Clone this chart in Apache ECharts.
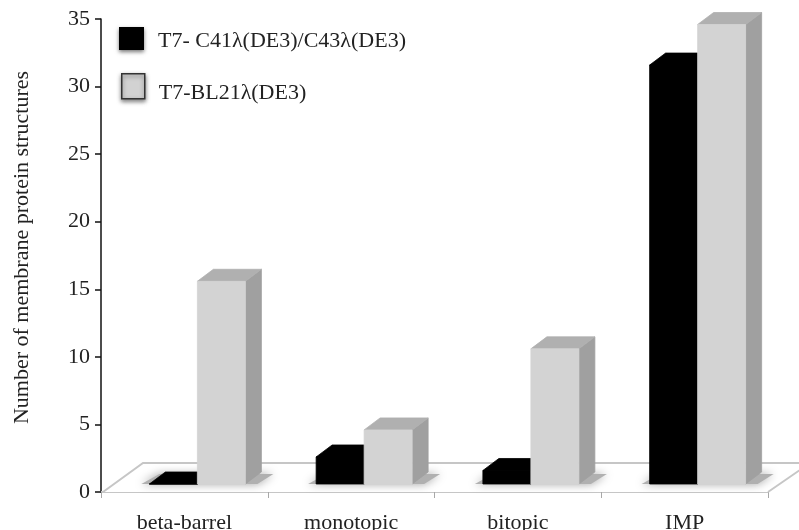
<!DOCTYPE html>
<html>
<head>
<meta charset="utf-8">
<style>html,body{margin:0;padding:0;background:#fff}#c{width:799px;height:530px;filter:blur(0.45px)}</style>
<script src="https://cdn.jsdelivr.net/npm/echarts@6/dist/echarts.min.js"></script>
</head>
<body>
<div id="c"></div>
<script>
const categories = ['beta-barrel', 'monotopic', 'bitopic', 'IMP'];
const c41Values = [0, 2, 1, 31];
const bl21Values = [15, 4, 10, 34];
const seriesNames = ['T7- C41λ(DE3)/C43λ(DE3)', 'T7-BL21λ(DE3)'];
const yAxisTitle = 'Number of membrane protein structures';

const FONT = '"Liberation Serif", serif';
const BAR_W = 48, DX = 16, DY = 12, LIFT = 8, SHIFT = 13;

function barItem(which, colors) {
  return function (params, api) {
    const v = api.value(1);
    const base = api.coord([api.value(0), 0]);
    const top = api.coord([api.value(0), v]);
    const mid = base[0] + SHIFT;
    const x0 = which === 0 ? mid - BAR_W : mid;
    const x1 = x0 + BAR_W;
    const yb = base[1] - LIFT, yt = top[1] - LIFT;
    const poly = (pts, fill) => ({ type: 'polygon', shape: { points: pts }, style: { fill: fill, stroke: fill, lineWidth: 0.8 } });
    return {
      type: 'group',
      children: [
        poly([[x1, yb], [x1 + DX, yb - DY], [x1 + DX, yt - DY], [x1, yt]], colors.side),
        poly([[x0, yt], [x0 + DX, yt - DY], [x1 + DX, yt - DY], [x1, yt]], colors.top),
        poly([[x0, yb], [x1, yb], [x1, yt], [x0, yt]], colors.front)
      ]
    };
  };
}

function floorItem(params, api) {
  const g = params.coordSys;
  const x = g.x, y = g.y + g.height;
  return {
    type: 'polyline',
    shape: { points: [[x + 2, y], [x + 42, y - 29], [x + g.width + 42, y - 29], [x + g.width, y]] },
    style: { fill: '#ffffff', stroke: '#c6c6c6', lineWidth: 2 }
  };
}

function shadowItem(params, api) {
  const base = api.coord([api.value(0), 0]);
  const mid = base[0] + SHIFT;
  const yb = base[1] - LIFT;
  return {
    type: 'polygon',
    shape: { points: [[mid - BAR_W - 8, yb], [mid - BAR_W + DX - 6, yb - DY + 2], [mid + BAR_W + DX + 12, yb - DY + 2], [mid + BAR_W + 12, yb]] },
    style: { fill: '#b0b0b0', shadowBlur: 10, shadowColor: '#a0a0a0' }
  };
}

const chart = echarts.init(document.getElementById('c'), null, { renderer: 'canvas' });
const legendText = (pad) => ({
  fontFamily: FONT, fontSize: 22, color: '#222',
  rich: { t: { fontFamily: FONT, fontSize: 22, color: '#222', padding: [pad, 0, 0, 9] } }
});
chart.setOption({
  animation: false,
  backgroundColor: '#ffffff',
  grid: { left: 101, top: 19, width: 667, height: 473, containLabel: false, outerBoundsMode: 'none' },
  legend: [
    {
      left: 119, top: 27, padding: 0, itemWidth: 25, itemHeight: 23, selectedMode: false,
      formatter: (n) => '{t|' + n + '}',
      textStyle: legendText(6),
      data: [{ name: seriesNames[0], icon: 'rect', itemStyle: { color: '#000', borderWidth: 0, shadowBlur: 4, shadowColor: '#777', shadowOffsetY: 2 } }]
    },
    {
      left: 121, top: 73, padding: 0, itemWidth: 23, itemHeight: 25, selectedMode: false,
      formatter: (n) => '{t|' + n + '}',
      textStyle: legendText(13),
      data: [{ name: seriesNames[1], icon: 'rect', itemStyle: { color: '#d2d2d2', borderColor: '#333', borderWidth: 1.5, shadowBlur: 4, shadowColor: '#777', shadowOffsetY: 2 } }]
    }
  ],
  xAxis: {
    type: 'category',
    data: categories,
    axisLine: { lineStyle: { color: '#c6c6c6', width: 2 } },
    axisTick: { show: true, length: 6, lineStyle: { color: '#a8a8a8', width: 1 } },
    axisLabel: { fontFamily: FONT, fontSize: 22, color: '#222', margin: 20 }
  },
  yAxis: {
    type: 'value',
    min: 0, max: 35, interval: 5,
    name: yAxisTitle,
    nameLocation: 'middle',
    nameGap: 68,
    nameTextStyle: { fontFamily: FONT, fontSize: 22, color: '#222', padding: [0, 0, 0, 16] },
    splitLine: { show: false },
    axisLine: { show: true, lineStyle: { color: '#111', width: 1.5 } },
    axisTick: { show: true, length: 6, lineStyle: { color: '#111', width: 1.5 } },
    axisLabel: { fontFamily: FONT, fontSize: 22, color: '#222', margin: 11 }
  },
  series: [
    { type: 'custom', name: 'floor', silent: true, z: 1, renderItem: floorItem, data: [[0, 0]], encode: { x: 0, y: 1 } },
    { type: 'custom', name: 'shadow', silent: true, z: 2, renderItem: shadowItem, data: categories.map((c, i) => [i, 0]), encode: { x: 0, y: 1 } },
    {
      type: 'custom', name: seriesNames[0], z: 3, itemStyle: { color: '#000' },
      renderItem: barItem(0, { front: '#000000', top: '#000000', side: '#000000' }),
      data: c41Values.map((v, i) => [i, v]), encode: { x: 0, y: 1 }
    },
    {
      type: 'custom', name: seriesNames[1], z: 4, itemStyle: { color: '#d2d2d2' },
      renderItem: barItem(1, { front: '#d3d3d3', top: '#b0b0b0', side: '#a0a0a0' }),
      data: bl21Values.map((v, i) => [i, v]), encode: { x: 0, y: 1 }
    }
  ]
});
</script>
</body>
</html>
